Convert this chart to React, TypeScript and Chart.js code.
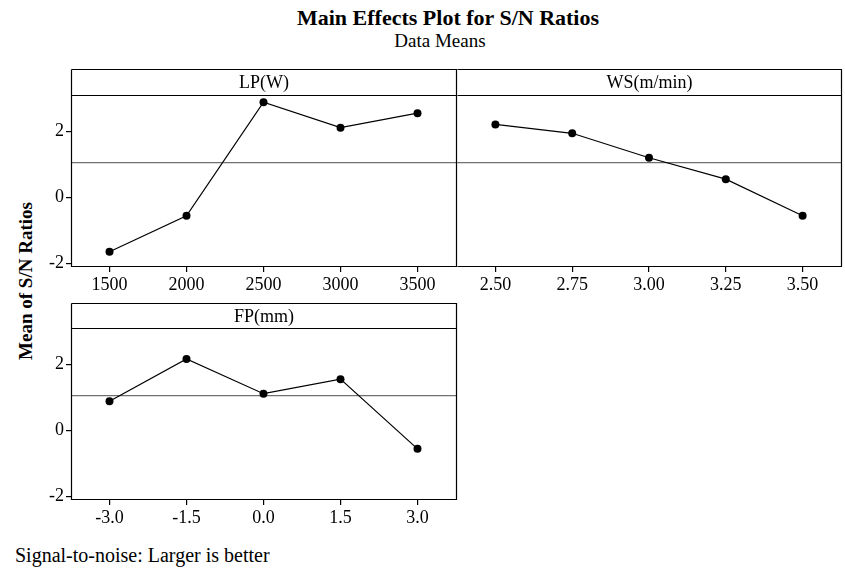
import React, { useEffect, useRef } from "react";
import { Chart, registerables } from "chart.js";

Chart.register(...registerables);

const LP_LEVELS = [1500, 2000, 2500, 3000, 3500];
const LP_LABELS = ["1500", "2000", "2500", "3000", "3500"];
const LP_MEANS = [-1.65, -0.56, 2.88, 2.11, 2.55];

const WS_LEVELS = [2.5, 2.75, 3.0, 3.25, 3.5];
const WS_LABELS = ["2.50", "2.75", "3.00", "3.25", "3.50"];
const WS_MEANS = [2.21, 1.94, 1.2, 0.55, -0.56];

const FP_LEVELS = [-3, -1.5, 0, 1.5, 3];
const FP_LABELS = ["-3.0", "-1.5", "0.0", "1.5", "3.0"];
const FP_MEANS = [0.88, 2.16, 1.11, 1.55, -0.56];

const GRAND_MEAN = 1.05;
const Y_TICKS = [-2, 0, 2];
const Y_TICK_LABELS = ["-2", "0", "2"];
const Y_MIN = -2.08;
const Y_MAX = 3.1;

const FONT = '"Liberation Serif", "Times New Roman", serif';

type PanelProps = {
  title: string;
  levels: number[];
  labels: string[];
  means: number[];
  xMin: number;
  xMax: number;
  showY: boolean;
  drawLeft: boolean;
  left: number;
  top: number;
  width: number;
  height: number;
  padTop: number;
  padLeft: number;
  padRight: number;
  yAxisW: number;
  xAxisH: number;
  header: number;
};

function Panel(p: PanelProps) {
  const ref = useRef<HTMLCanvasElement | null>(null);
  useEffect(() => {
    if (!ref.current) return;
    const framePlugin = {
      id: "frame",
      afterDraw(chart: any) {
        const { ctx, chartArea } = chart;
        const l = Math.round(chartArea.left) + 0.5;
        const r = Math.round(chartArea.right) + 0.5;
        const t = Math.round(chartArea.top) + 0.5;
        const b = Math.round(chartArea.bottom) + 0.5;
        const ht = t - p.header;
        ctx.save();
        ctx.strokeStyle = "#000";
        ctx.lineWidth = 1.2;
        ctx.beginPath();
        ctx.moveTo(l, ht);
        ctx.lineTo(r, ht);
        ctx.lineTo(r, b);
        ctx.lineTo(l, b);
        if (p.drawLeft) ctx.lineTo(l, ht);
        ctx.moveTo(l, t);
        ctx.lineTo(r, t);
        ctx.stroke();
        ctx.fillStyle = "#000";
        ctx.font = "18px " + FONT;
        ctx.textAlign = "center";
        ctx.textBaseline = "middle";
        ctx.fillText(p.title, (l + r) / 2, t - p.header / 2 + 1);
        ctx.restore();
      },
    };
    const chart = new Chart(ref.current, {
      type: "line",
      data: {
        datasets: [
          {
            data: p.levels.map((x, i) => ({ x, y: p.means[i] })),
            borderColor: "#000",
            borderWidth: 1.2,
            pointRadius: 4,
            pointBackgroundColor: "#000",
            pointBorderColor: "#000",
            pointBorderWidth: 0,
            clip: false as any,
          },
          {
            data: [
              { x: p.xMin, y: GRAND_MEAN },
              { x: p.xMax, y: GRAND_MEAN },
            ],
            borderColor: "#707070",
            borderWidth: 1.3,
            pointRadius: 0,
          },
        ],
      },
      options: {
        animation: false,
        responsive: false,
        devicePixelRatio: 1,
        layout: {
          padding: { top: p.padTop, left: p.padLeft, right: p.padRight, bottom: 0 },
        },
        plugins: {
          legend: { display: false },
          tooltip: { enabled: false },
          title: { display: false },
        },
        scales: {
          x: {
            type: "linear",
            min: p.xMin,
            max: p.xMax,
            afterBuildTicks: (s: any) => {
              s.ticks = p.levels.map((v) => ({ value: v }));
            },
            afterFit: (s: any) => {
              s.height = p.xAxisH;
            },
            ticks: {
              callback: (_v: any, i: number) => p.labels[i],
              font: { family: FONT, size: 18 },
              color: "#000",
              padding: 2,
              maxRotation: 0,
              autoSkip: false,
            },
            grid: {
              drawOnChartArea: false,
              drawTicks: true,
              tickLength: 6,
              color: "#000",
              lineWidth: 1.2,
            },
            border: { display: false },
          },
          y: {
            type: "linear",
            display: p.showY,
            min: Y_MIN,
            max: Y_MAX,
            afterBuildTicks: (s: any) => {
              s.ticks = Y_TICKS.map((v) => ({ value: v }));
            },
            afterFit: (s: any) => {
              s.width = p.yAxisW;
            },
            ticks: {
              callback: (_v: any, i: number) => Y_TICK_LABELS[i],
              font: { family: FONT, size: 18 },
              color: "#000",
              padding: 2,
            },
            grid: {
              drawOnChartArea: false,
              drawTicks: true,
              tickLength: 5,
              color: "#000",
              lineWidth: 1.2,
            },
            border: { display: false },
          },
        },
      },
      plugins: [framePlugin],
    } as any);
    return () => chart.destroy();
  }, []);
  return (
    <canvas
      ref={ref}
      width={p.width}
      height={p.height}
      style={{
        position: "absolute",
        left: p.left,
        top: p.top,
        width: p.width,
        height: p.height,
      }}
    />
  );
}

export default function App() {
  return (
    <div
      style={{
        position: "absolute",
        left: 0,
        top: 0,
        width: 845,
        height: 569,
        background: "#fff",
        fontFamily: FONT,
        color: "#000",
        overflow: "hidden",
      }}
    >
      <div
        style={{
          position: "absolute",
          left: 0,
          width: 896,
          top: 6,
          lineHeight: "24px",
          textAlign: "center",
          fontWeight: "bold",
          fontSize: 22,
        }}
      >
        Main Effects Plot for S/N Ratios
      </div>
      <div
        style={{
          position: "absolute",
          left: 0,
          width: 880,
          top: 30,
          lineHeight: "22px",
          textAlign: "center",
          fontSize: 19,
        }}
      >
        Data Means
      </div>
      <div
        style={{
          position: "absolute",
          left: 26,
          top: 281,
          transform: "translate(-50%, -50%) rotate(-90deg)",
          whiteSpace: "nowrap",
          fontWeight: "bold",
          fontSize: 19,
          lineHeight: "22px",
        }}
      >
        Mean of S/N Ratios
      </div>
      <div
        style={{
          position: "absolute",
          left: 15,
          top: 544,
          lineHeight: "22px",
          fontSize: 20,
        }}
      >
        Signal-to-noise: Larger is better
      </div>
      <Panel
        title="LP(W)"
        levels={LP_LEVELS}
        labels={LP_LABELS}
        means={LP_MEANS}
        xMin={1250}
        xMax={3750}
        showY={true}
        drawLeft={true}
        left={30}
        top={60}
        width={430}
        height={245}
        padTop={35}
        padLeft={0}
        padRight={3}
        yAxisW={41}
        xAxisH={39}
        header={26}
      />
      <Panel
        title="WS(m/min)"
        levels={WS_LEVELS}
        labels={WS_LABELS}
        means={WS_MEANS}
        xMin={2.375}
        xMax={3.625}
        showY={false}
        drawLeft={false}
        left={450}
        top={60}
        width={395}
        height={245}
        padTop={35}
        padLeft={7}
        padRight={3}
        yAxisW={0}
        xAxisH={39}
        header={26}
      />
      <Panel
        title="FP(mm)"
        levels={FP_LEVELS}
        labels={FP_LABELS}
        means={FP_MEANS}
        xMin={-3.75}
        xMax={3.75}
        showY={true}
        drawLeft={true}
        left={30}
        top={295}
        width={430}
        height={245}
        padTop={33}
        padLeft={0}
        padRight={3}
        yAxisW={41}
        xAxisH={41}
        header={25}
      />
    </div>
  );
}
